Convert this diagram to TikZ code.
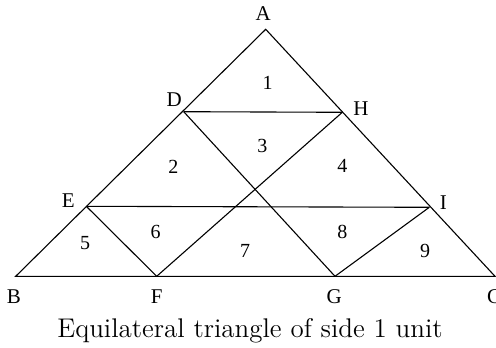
\documentclass[tikz,border=0pt]{standalone}
\usepackage{fontspec}
\newfontfamily\ptfont{Liberation Serif}
\begin{document}
\begin{tikzpicture}[x=0.5pt,y=-0.5pt,line width=0.55pt,
  ptlabel/.style={font=\ptfont\fontsize{10.5}{12}\selectfont,inner sep=0pt},
  region/.style={font=\ptfont\fontsize{10}{12}\selectfont,inner sep=0pt}]
  \useasboundingbox (0,0) rectangle (496,347);
  % Corner and division points
  \coordinate (A) at (265.7,29.3);
  \coordinate (B) at (15.7,276.3);
  \coordinate (C) at (495,276.3);
  \coordinate (D) at (183.7,111.7);
  \coordinate (H) at (342.3,112.3);
  \coordinate (E) at (86.3,206.3);
  \coordinate (I) at (429.3,207.3);
  \coordinate (F) at (156.7,276.3);
  \coordinate (G) at (335,276.3);
  % Outer triangle
  \draw (A) -- (B) -- (C) -- cycle;
  % Inner segments
  \draw (D) -- (H);
  \draw (E) -- (I);
  \draw (D) -- (G);
  \draw (H) -- (F);
  \draw (E) -- (F);
  \draw (I) -- (G);
  % Point labels
  \node[ptlabel] (lA) at (263.3,13.3) {A};
  \node[ptlabel] (lB) at (14,296.7) {B};
  \node[ptlabel] (lC) at (494,296.7) {C};
  \node[ptlabel] (lD) at (174.3,100) {D};
  \node[ptlabel] (lH) at (361,109) {H};
  \node[ptlabel] (lE) at (68.3,201) {E};
  \node[ptlabel] (lI) at (443.3,202.3) {I};
  \node[ptlabel] (lF) at (156.7,296.7) {F};
  \node[ptlabel] (lG) at (334.3,296.7) {G};
  % Region numbers
  \node[region] (r1) at (267.7,82.7) {1};
  \node[region] (r2) at (173.3,166.7) {2};
  \node[region] (r3) at (262.3,145.7) {3};
  \node[region] (r4) at (342.3,166) {4};
  \node[region] (r5) at (85,242.7) {5};
  \node[region] (r6) at (155.7,232.3) {6};
  \node[region] (r7) at (245,250.7) {7};
  \node[region] (r8) at (342.3,232.3) {8};
  \node[region] (r9) at (425,250.7) {9};
  % Caption
  \node[font=\fontsize{13.5}{16}\selectfont,inner sep=0pt] (cap) at (250,331)
    {Equilateral triangle of side 1 unit};
\end{tikzpicture}
\end{document}
